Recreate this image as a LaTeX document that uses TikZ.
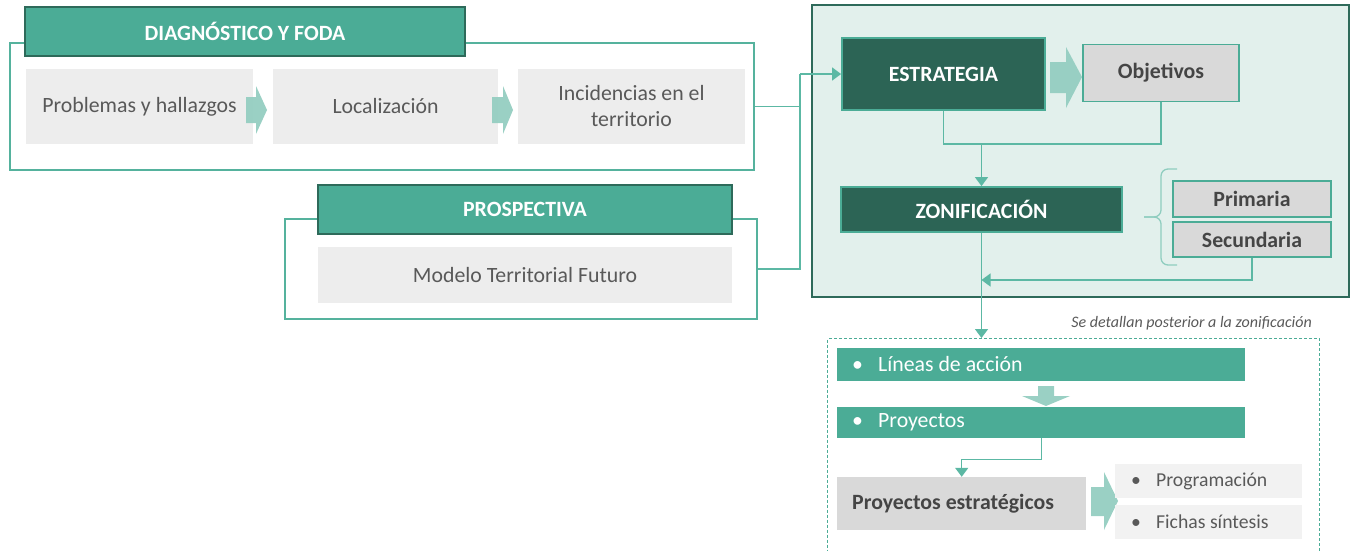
\documentclass[tikz,border=0pt]{standalone}
\usepackage{fontspec}
\setmainfont{Carlito}
\usetikzlibrary{arrows.meta}
\definecolor{cTeal}{HTML}{4BAC96}
\definecolor{cDark}{HTML}{2E6A5A}
\definecolor{cDeep}{HTML}{2C6455}
\definecolor{cLine}{HTML}{55B29D}
\definecolor{cConn}{HTML}{5CB8A4}
\definecolor{cGray}{HTML}{EDEDED}
\definecolor{cGrayMid}{HTML}{D9D9D9}
\definecolor{cGrayLight}{HTML}{F2F2F2}
\definecolor{cTxt}{HTML}{595959}
\definecolor{cTxtDark}{HTML}{454545}
\definecolor{cArrow}{HTML}{95CEC1}
\definecolor{cPanel}{HTML}{E2F0EC}
\definecolor{cBrace}{HTML}{8FCDBF}
\newcommand\fbody{\fontsize{21.8}{26}\selectfont}
\newcommand\fhead{\fontsize{21.8}{26}\selectfont\bfseries}
\newcommand\fprog{\fontsize{19.7}{23}\selectfont}
\newcommand\fnoteit{\fontsize{16}{19}\selectfont\itshape}
\begin{document}
\begin{tikzpicture}[x=1pt,y=-1pt,
  outerbox/.style={rectangle, draw=cLine, line width=1.6pt, fill=white, inner sep=0pt},
  header/.style={rectangle, draw=cDark, line width=1.6pt, fill=cTeal, text=white, font=\fhead, inner sep=0pt},
  graybox/.style={rectangle, fill=cGray, text=cTxt, font=\fbody, inner sep=0pt, align=center},
  deepbox/.style={rectangle, draw=cTeal, line width=1.8pt, fill=cDeep, text=white, font=\fhead, inner sep=0pt},
  midbox/.style={rectangle, draw=cTeal, line width=1.8pt, fill=cGrayMid, text=cTxtDark, font=\fhead, inner sep=0pt},
  bar/.style={rectangle, fill=cTeal, text=white, font=\fbody, inner ysep=0pt, inner xsep=15pt},
  lightbox/.style={rectangle, fill=cGrayLight, text=cTxt, font=\fprog, inner ysep=0pt, inner xsep=16pt},
  barrow/.style={fill=cArrow, fill opacity=0.95},
  conn/.style={draw=cConn, line width=1.4pt},
  arr/.style={conn, -{Triangle[length=9pt,width=13pt]}},
]
\useasboundingbox (0,0) rectangle (1351,550);

% ---------- DIAGNOSTICO ----------
\node[outerbox, minimum width=744pt, minimum height=127pt] (diag) at (382,106.5) {};
\node[header, minimum width=440pt, minimum height=49pt] (hdiag) at (245,31.5) {DIAGNÓSTICO Y FODA};
\node[graybox, minimum width=227pt, minimum height=75pt] (prob) at (139.5,106.5) {Problemas y hallazgos};
\node[graybox, minimum width=225pt, minimum height=75pt] (loc) at (385.5,106.5) {Localización};
\node[graybox, minimum width=227pt, minimum height=75pt] (inc) at (631.5,106.5) {Incidencias en el\\territorio};
\fill[barrow] (246,97) -- (256,97) -- (256,86) -- (267,110) -- (256,134) -- (256,123) -- (246,123) -- cycle;
\fill[barrow] (492,97) -- (503,97) -- (503,86) -- (513,110) -- (503,134) -- (503,123) -- (492,123) -- cycle;

% ---------- PROSPECTIVA ----------
\node[outerbox, minimum width=472pt, minimum height=100pt] (prosp) at (521,269) {};
\node[header, minimum width=414pt, minimum height=49pt] (hprosp) at (525,209.5) {PROSPECTIVA};
\node[graybox, minimum width=414pt, minimum height=56pt] (mod) at (525,275) {Modelo Territorial Futuro};

% ---------- ESTRATEGIA PANEL ----------
\node[rectangle, draw=cDark, line width=2pt, fill=cPanel, minimum width=537pt, minimum height=292pt, inner sep=0pt] (panel) at (1080.5,151) {};
\node[deepbox, minimum width=203pt, minimum height=72pt] (estr) at (943.5,74) {ESTRATEGIA};
\node[midbox, minimum width=156pt, minimum height=57pt] (obj) at (1161,73) {Objetivos};
\fill[barrow] (1050,62) -- (1066,62) -- (1066,47) -- (1082,77) -- (1066,108) -- (1066,93) -- (1050,93) -- cycle;
\node[deepbox, minimum width=281pt, minimum height=45pt] (zon) at (981.5,209.5) {ZONIFICACIÓN};
\node[midbox, minimum width=158pt, minimum height=36pt] (prim) at (1252,199) {Primaria};
\node[midbox, minimum width=158pt, minimum height=35pt] (sec) at (1252,239.5) {Secundaria};
\draw[cBrace, line width=1.3pt, rounded corners=7pt] (1177,169) -- (1161,169) -- (1161,217) -- (1144,217);
\draw[cBrace, line width=1.3pt, rounded corners=7pt] (1177,265) -- (1161,265) -- (1161,217) -- (1144,217);

\coordinate (jz) at (981.5,144);
\draw[conn] (estr.south) |- (jz) -| (obj.south);
\draw[arr] (jz) -- (zon.north);
\coordinate (js) at (981.5,280);
\draw[arr] (sec.south) |- (js);

% ---------- input connectors ----------
\coordinate (j) at (800,74);
\draw[conn] (diag.east) -| (j);
\draw[conn] (prosp.east) -| (j);
\draw[arr] (j) -- (estr.west);

% ---------- DETAIL BOX ----------
\node[rectangle, draw=cTeal, line width=1.4pt, dash pattern=on 3pt off 2pt, minimum width=492pt, minimum height=240pt, anchor=north west, inner sep=0pt] (det) at (827,338) {};
\node[anchor=east, font=\fnoteit, text=cTxt, inner sep=0pt] (note) at (1312,323) {Se detallan posterior a la zonificación};
\draw[arr] (zon.south) -- (zon.south |- det.north);

\node[bar, minimum height=33pt, anchor=west] (lin) at (837,364.5) {\makebox[378pt][l]{\makebox[26pt][l]{•}Líneas de acción}};
\fill[barrow] (1038,386) -- (1054,386) -- (1054,396) -- (1070,396) -- (1046,406) -- (1022,396) -- (1038,396) -- cycle;
\node[bar, minimum height=31pt, anchor=west] (proy) at (837,422.5) {\makebox[378pt][l]{\makebox[26pt][l]{•}Proyectos}};

\node[rectangle, fill=cGrayMid, text=cTxtDark, font=\fhead, minimum height=53pt, inner xsep=15pt, inner ysep=0pt, anchor=west] (pe) at (837,503.5) {\makebox[219pt][l]{Proyectos estratégicos}};
\draw[arr] (proy.south) -- ++(0,21) -| (pe.north);
\fill[barrow] (1091,487) -- (1104,487) -- (1104,472) -- (1118,501) -- (1104,530) -- (1104,516) -- (1091,516) -- cycle;
\node[lightbox, minimum height=34pt, anchor=west] (prog) at (1115,481) {\makebox[155pt][l]{\makebox[25pt][l]{•}Programación}};
\node[lightbox, minimum height=34pt, anchor=west] (fich) at (1115,522) {\makebox[155pt][l]{\makebox[25pt][l]{•}Fichas síntesis}};
\end{tikzpicture}
\end{document}
